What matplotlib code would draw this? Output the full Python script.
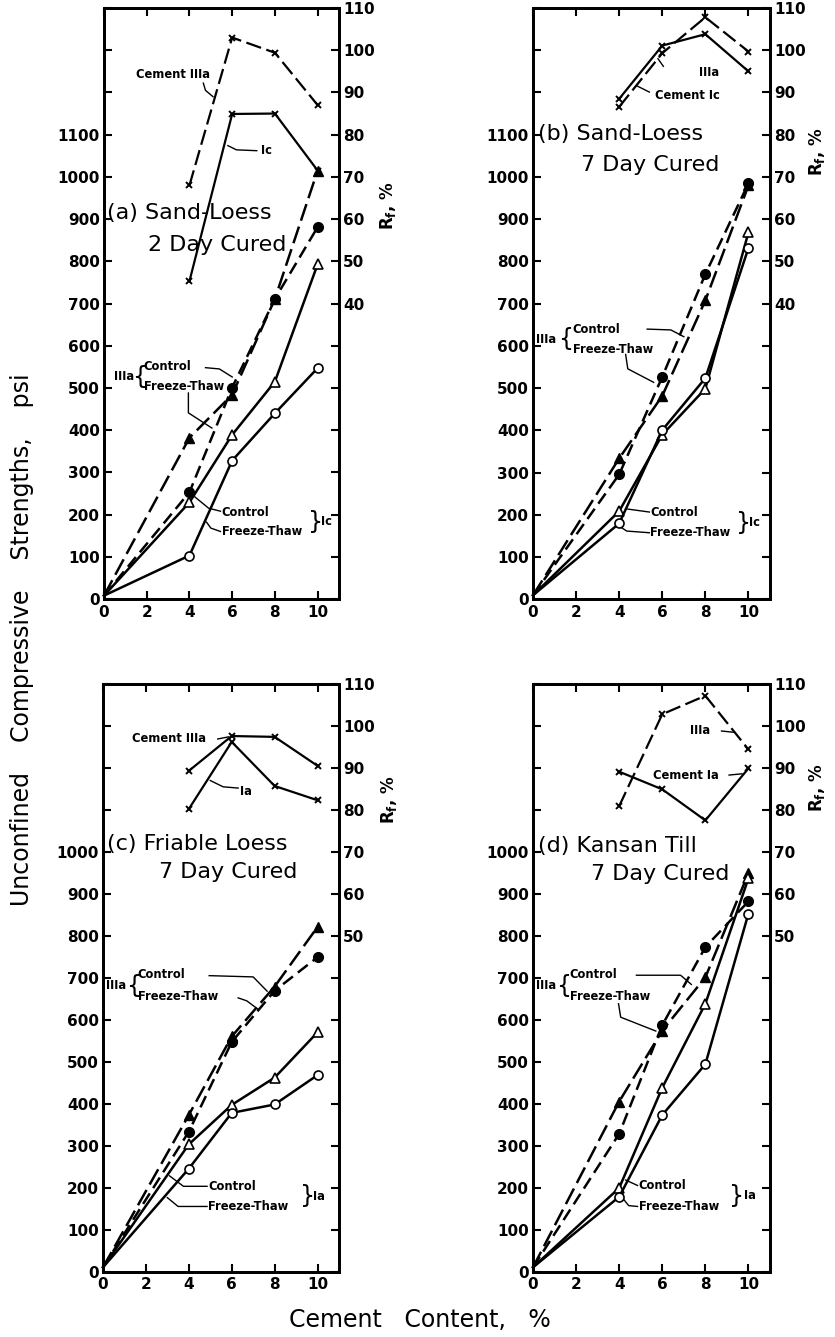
import numpy as np
import matplotlib
matplotlib.use("Agg")
import matplotlib.pyplot as plt

# ---------------- data ----------------
cement = [0, 4, 6, 8, 10]
rf_cement = [4, 6, 8, 10]

# (a) Sand-Loess, 2 day cured
a_IIIa_control = [8, 382, 484, 711, 1015]
a_IIIa_ft = [8, 253, 501, 711, 881]
a_I_control = [8, 229, 389, 515, 793]
a_I_ft = [8, 103, 328, 440, 547]
a_rf_IIIa = [68, 103, 99.4, 87]
a_rf_I = [45.3, 84.9, 85, 71.5]

# (b) Sand-Loess, 7 day cured
b_IIIa_control = [10, 334, 482, 708, 980]
b_IIIa_ft = [10, 296, 527, 770, 985]
b_I_control = [10, 209, 390, 499, 869]
b_I_ft = [10, 180, 401, 524, 832]
b_rf_IIIa = [86.6, 99.3, 107.8, 99.7]
b_rf_I = [88.5, 101.1, 103.8, 95]

# (c) Friable Loess, 7 day cured
c_IIIa_control = [10, 373, 560, 679, 821]
c_IIIa_ft = [10, 333, 547, 669, 749]
c_I_control = [10, 303, 397, 462, 570]
c_I_ft = [10, 245, 378, 398, 468]
c_rf_IIIa = [89.3, 97.6, 97.4, 90.5]
c_rf_I = [80.2, 96.2, 85.7, 82.3]

# (d) Kansan Till, 7 day cured
d_IIIa_control = [10, 405, 574, 701, 949]
d_IIIa_ft = [10, 328, 587, 773, 882]
d_I_control = [10, 199, 438, 638, 937]
d_I_ft = [10, 178, 373, 494, 853]
d_rf_IIIa = [80.9, 102.8, 107.2, 94.4]
d_rf_I = [89.1, 84.9, 77.5, 89.9]

x_ticks = [0, 2, 4, 6, 8, 10]
left_ticks = list(range(0, 1401, 100))
right_ticks = list(range(-30, 111, 10))

plt.rcParams['font.family'] = ['DejaVu Sans']

fig = plt.figure(figsize=(8.35, 13.37), dpi=100)

TICKFONT = dict(fontsize=11, fontweight='bold')
ANNFONT = dict(fontsize=8.3, fontweight='bold')


def make_panel(rect, IIIa_c, IIIa_f, I_c, I_f, rf_IIIa, rf_I, left_max, right_min,
               rf_IIIa_style, title1, title2, t1pos, t2pos, rf_label_pos):
    ax = fig.add_axes(rect)
    ax.set_xlim(0, 11)
    ax.set_ylim(0, 1400)
    dash_a = (0, (7, 2.5))
    dash_b = (0, (5, 2.5))
    ax.plot(cement, IIIa_c, color='black', lw=1.8, ls=dash_a, marker='^', ms=6.5,
            mfc='black', mec='black', clip_on=False, zorder=4, markevery=[1, 2, 3, 4])
    ax.plot(cement, IIIa_f, color='black', lw=1.8, ls=dash_b, marker='o', ms=7,
            mfc='black', mec='black', clip_on=False, zorder=4, markevery=[1, 2, 3, 4])
    ax.plot(cement, I_c, color='black', lw=1.8, ls='-', marker='^', ms=6.5,
            mfc='white', mec='black', mew=1.2, clip_on=False, zorder=4,
            markevery=[1, 2, 3, 4])
    ax.plot(cement, I_f, color='black', lw=1.8, ls='-', marker='o', ms=6.5,
            mfc='white', mec='black', mew=1.2, clip_on=False, zorder=4,
            markevery=[1, 2, 3, 4])

    ax.set_xticks(x_ticks)
    ax.set_xticklabels([str(v) for v in x_ticks], **TICKFONT)
    ax.set_yticks(left_ticks)
    ax.set_yticklabels([str(v) if v <= left_max else '' for v in left_ticks], **TICKFONT)
    ax.tick_params(axis='both', direction='in', length=6, width=1.5, pad=3,
                   top=True, labeltop=False)
    ax.tick_params(axis='x', pad=4)
    for sp in ax.spines.values():
        sp.set_linewidth(2)

    ax2 = ax.twinx()
    ax2.set_ylim(-30, 110)
    ax2.plot(rf_cement, rf_IIIa, color='black', lw=1.6, ls=rf_IIIa_style,
             marker='x', ms=5, mew=1.4, zorder=4)
    ax2.plot(rf_cement, rf_I, color='black', lw=1.6, ls='-',
             marker='x', ms=5, mew=1.4, zorder=4)
    ax2.set_yticks(right_ticks)
    ax2.set_yticklabels([str(v) if v >= right_min else '' for v in right_ticks], **TICKFONT)
    ax2.tick_params(axis='y', direction='in', length=6, width=1.5, pad=3)
    for sp in ax2.spines.values():
        sp.set_linewidth(2)
    ax2.text(rf_label_pos[0], rf_label_pos[1], r'R$_\mathbf{f}$, %', transform=ax.transAxes,
             rotation=90, ha='center', va='center', fontsize=12, fontweight='bold')

    ax.text(t1pos[0], t1pos[1], title1, fontsize=16, ha='left', va='center', zorder=6)
    ax.text(t2pos[0], t2pos[1], title2, fontsize=16, ha='left', va='center', zorder=6)
    return ax, ax2


def leader(ax, xs, ys):
    ax.plot(xs, ys, color='black', lw=1.0, clip_on=False, zorder=3)


def group_label(ax, name_x, brace_x, text_x, yc, yf, name, side):
    """bracketed Control / Freeze-Thaw label."""
    ym = (yc + yf) / 2
    ax.text(text_x, yc, 'Control', ha='left', va='center', **ANNFONT)
    ax.text(text_x, yf, 'Freeze-Thaw', ha='left', va='center', **ANNFONT)
    ax.text(brace_x, ym, '{' if side == 'left' else '}', ha='center', va='center',
            fontsize=17)
    ax.text(name_x, ym, name, ha='left', va='center', **ANNFONT)


# ---------------- panel (a) ----------------
axa, axa2 = make_panel([0.12455, 0.55198, 0.28144, 0.44203],
                       a_IIIa_control, a_IIIa_ft, a_I_control, a_I_ft, a_rf_IIIa, a_rf_I,
                       1100, 40, (0, (7, 2.5)),
                       '(a) Sand-Loess', '2 Day Cured', (0.15, 915), (2.05, 838),
                       (1.21, 0.665))
axa.text(1.5, 1242, 'Cement IIIa', ha='left', va='center', **ANNFONT)
leader(axa, [4.65, 4.75, 5.1], [1222, 1205, 1190])
axa.text(7.35, 1062, 'Ic', ha='left', va='center', **ANNFONT)
leader(axa, [7.15, 6.2, 5.8], [1062, 1064, 1074])
group_label(axa, 0.45, 1.65, 1.85, 550, 503, 'IIIa', 'left')
leader(axa, [4.75, 5.4, 6.0], [548, 545, 526])
leader(axa, [3.95, 3.95, 5.05], [488, 441, 405])
group_label(axa, 10.15, 9.88, 5.5, 205, 160, 'Ic', 'right')
leader(axa, [5.45, 4.9, 4.25], [208, 215, 242])
leader(axa, [5.45, 5.0, 4.8], [160, 168, 182])

# ---------------- panel (b) ----------------
axb, axb2 = make_panel([0.63832, 0.55161, 0.28383, 0.44241],
                       b_IIIa_control, b_IIIa_ft, b_I_control, b_I_ft, b_rf_IIIa, b_rf_I,
                       1100, 40, (0, (7, 2.5)),
                       '(b) Sand-Loess', '7 Day Cured', (0.25, 1102), (2.25, 1028),
                       (1.20, 0.757))
axb.text(7.7, 1248, 'IIIa', ha='left', va='center', **ANNFONT)
axb.text(5.65, 1193, 'Cement Ic', ha='left', va='center', **ANNFONT)
leader(axb, [5.4, 4.85], [1201, 1215])
leader(axb, [6.05, 5.8], [1262, 1280])
group_label(axb, 0.15, 1.5, 1.85, 640, 592, 'IIIa', 'left')
leader(axb, [5.3, 6.4, 7.0], [640, 638, 622])
leader(axb, [4.3, 4.4, 5.6], [580, 546, 514])
group_label(axb, 10.02, 9.78, 5.45, 205, 158, 'Ic', 'right')
leader(axb, [5.4, 4.4], [207, 214])
leader(axb, [5.4, 4.35, 4.05], [158, 162, 172])

# ---------------- panel (c) ----------------
axc, axc2 = make_panel([0.12335, 0.04899, 0.28263, 0.43942],
                       c_IIIa_control, c_IIIa_ft, c_I_control, c_I_ft, c_rf_IIIa, c_rf_I,
                       1000, 50, '-',
                       '(c) Friable Loess', '7 Day Cured', (0.2, 1018), (2.6, 951),
                       (1.21, 0.803))
axc.text(1.35, 1269, 'Cement IIIa', ha='left', va='center', **ANNFONT)
leader(axc, [5.35, 5.85], [1269, 1274])
axc.text(6.4, 1145, 'Ia', ha='left', va='center', **ANNFONT)
leader(axc, [6.3, 5.6, 5.0], [1152, 1155, 1170])
group_label(axc, 0.15, 1.42, 1.62, 707, 655, 'IIIa', 'left')
leader(axc, [4.95, 7.0, 7.65], [705, 702, 668])
leader(axc, [6.3, 6.7, 7.2], [652, 645, 626])
group_label(axc, 9.8, 9.53, 4.9, 203, 155, 'Ia', 'right')
leader(axc, [4.85, 3.75, 3.1], [203, 203, 228])
leader(axc, [4.85, 3.5, 3.0], [155, 155, 176])

# ---------------- panel (d) ----------------
axd, axd2 = make_panel([0.63832, 0.04899, 0.28383, 0.43942],
                       d_IIIa_control, d_IIIa_ft, d_I_control, d_I_ft, d_rf_IIIa, d_rf_I,
                       1000, 50, (0, (7, 2.5)),
                       '(d) Kansan Till', '7 Day Cured', (0.25, 1015), (2.7, 948),
                       (1.20, 0.823))
axd.text(7.3, 1288, 'IIIa', ha='left', va='center', **ANNFONT)
leader(axd, [8.75, 9.3], [1288, 1285])
axd.text(5.55, 1183, 'Cement Ia', ha='left', va='center', **ANNFONT)
leader(axd, [9.1, 9.7], [1183, 1186])
group_label(axd, 0.15, 1.42, 1.7, 707, 655, 'IIIa', 'left')
leader(axd, [4.8, 6.85, 7.35], [706, 706, 684])
leader(axd, [3.97, 4.07, 5.7], [638, 606, 573])
group_label(axd, 9.78, 9.46, 4.9, 205, 155, 'Ia', 'right')
leader(axd, [4.85, 4.3], [205, 218])
leader(axd, [4.85, 4.44, 4.16], [155, 157, 175])

# ---------------- axis titles ----------------
fig.text(22 / 835, 1 - 640 / 1337, 'Unconfined    Compressive    Strengths,    psi',
         rotation=90, ha='center', va='center', fontsize=17)
fig.text(420 / 835, 1 - 1320 / 1337, 'Cement   Content,   %',
         ha='center', va='center', fontsize=17)

fig.savefig('out.png', dpi=100, facecolor='white')
